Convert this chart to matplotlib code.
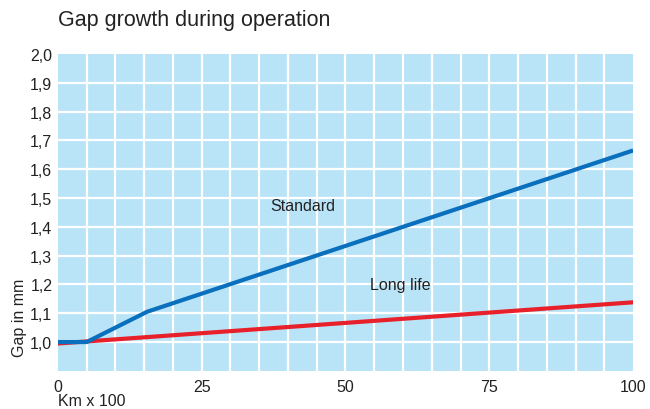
import matplotlib.pyplot as plt
import numpy as np

plt.rcParams['font.family'] = ['Liberation Sans', 'DejaVu Sans']

# data
standard_x = [0, 5, 15.5, 100]
standard_y = [1.0, 1.0, 1.105, 1.665]
longlife_x = [0, 100]
longlife_y = [0.995, 1.138]

x_ticks = [0, 25, 50, 75, 100]
y_ticks = [1.0, 1.1, 1.2, 1.3, 1.4, 1.5, 1.6, 1.7, 1.8, 1.9, 2.0]

fig = plt.figure(figsize=(6.5, 4.1), dpi=100)
ax = fig.add_axes([0.089, 0.093, 0.885, 0.773])
ax.set_facecolor('#b9e4f8')

ax.set_xlim(0, 100)
ax.set_ylim(0.9, 2.0)

# white grid
for gx in np.arange(5, 100, 5):
    ax.axvline(gx, color='white', lw=1.6, zorder=1)
for gy in np.arange(1.0, 2.0, 0.1):
    ax.axhline(gy, color='white', lw=1.6, zorder=1)

ax.plot(longlife_x, longlife_y, color='#e8202a', lw=3, solid_capstyle='butt', zorder=3)
ax.plot(standard_x, standard_y, color='#0a6fbd', lw=3, solid_capstyle='butt', zorder=4)

ax.text(42.5, 1.475, 'Standard', fontsize=11.5, color='#222222', ha='center', va='center')
ax.text(59.5, 1.2, 'Long life', fontsize=11.5, color='#222222', ha='center', va='center')

for s in ax.spines.values():
    s.set_visible(False)
ax.tick_params(length=0, labelsize=11.5, labelcolor='#222222')
ax.tick_params(axis='y', pad=4)
ax.tick_params(axis='x', pad=6)
ax.set_xticks(x_ticks)
ax.set_xticklabels([str(t) for t in x_ticks])
ax.set_yticks(y_ticks)
ax.set_yticklabels([('%.1f' % t).replace('.', ',') for t in y_ticks])

fig.text(0.089, 0.95, 'Gap growth during operation', fontsize=15.5, color='#222222',
         ha='left', va='center')
fig.text(0.03, 0.224, 'Gap in mm', fontsize=11.5, color='#222222', rotation=90,
         ha='center', va='center')
fig.text(0.089, 0.002, 'Km x 100', fontsize=11.5, color='#222222', ha='left', va='bottom')

fig.savefig('out.png', dpi=100)
